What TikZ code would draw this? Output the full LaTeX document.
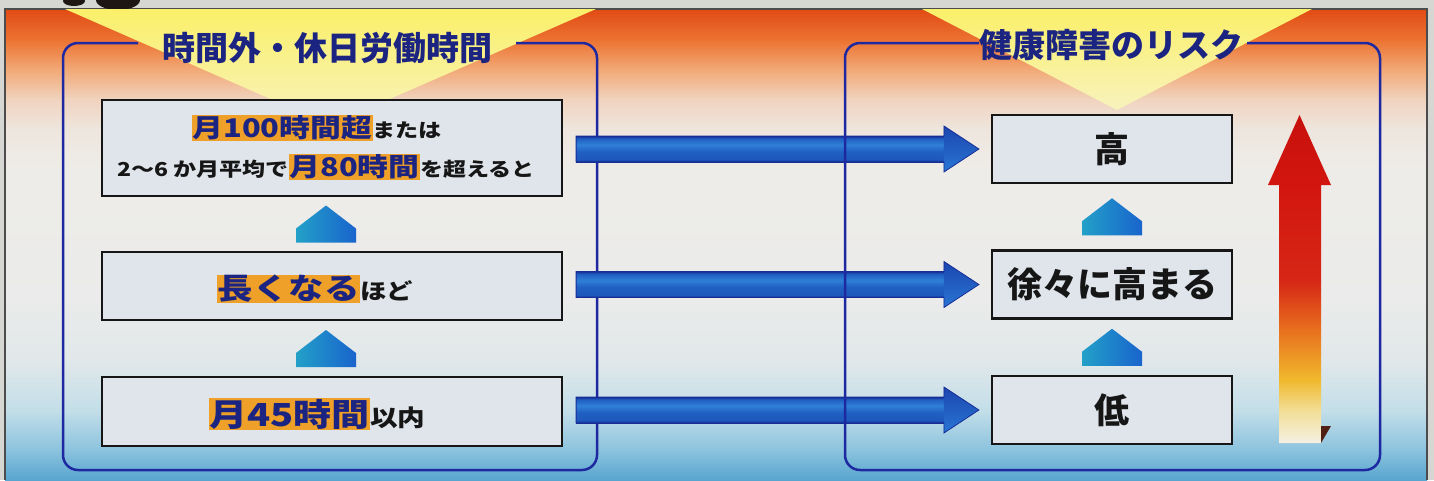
\documentclass[tikz,border=0pt]{standalone}
\usepackage{fontspec}
\setmainfont{Noto Sans CJK JP}
\newfontfamily\wide{Noto Sans CJK JP}[FakeStretch=1.2]
\usetikzlibrary{calc}
\definecolor{page}{RGB}{214,214,210}
\definecolor{navy}{RGB}{28,36,130}
\definecolor{frame}{RGB}{30,40,160}
\definecolor{hlor}{RGB}{238,160,40}
\definecolor{boxfill}{RGB}{223,229,234}
\definecolor{ink}{RGB}{22,22,22}
\definecolor{blob}{RGB}{30,22,18}
\definecolor{blob2}{RGB}{80,32,20}
\definecolor{yelT}{RGB}{250,240,105}
\definecolor{yelB}{RGB}{248,242,190}
\definecolor{pentL}{RGB}{35,160,200}
\definecolor{pentR}{RGB}{25,100,205}
\definecolor{tD}{RGB}{22,45,150}
\definecolor{tM}{RGB}{32,95,195}
\definecolor{tM2}{RGB}{30,88,188}
\definecolor{tL}{RGB}{48,128,215}
\definecolor{hdT}{RGB}{28,70,175}
\definecolor{hdB}{RGB}{40,118,212}
% background colours (bottom to top)
\definecolor{bgA}{RGB}{88,165,208}
\definecolor{bgB}{RGB}{140,195,222}
\definecolor{bgC}{RGB}{195,222,232}
\definecolor{bgD}{RGB}{225,232,234}
\definecolor{bgE}{RGB}{234,235,234}
\definecolor{bgF}{RGB}{238,236,232}
\definecolor{bgG}{RGB}{238,230,222}
\definecolor{bgH}{RGB}{240,212,192}
\definecolor{bgI}{RGB}{242,170,120}
\definecolor{bgJ}{RGB}{236,115,50}
\definecolor{bgK}{RGB}{225,75,20}
% red arrow colours
\definecolor{rA}{RGB}{245,240,228}
\definecolor{rB}{RGB}{242,222,150}
\definecolor{rC}{RGB}{240,185,45}
\definecolor{rD}{RGB}{232,112,30}
\definecolor{rE}{RGB}{214,38,22}
\definecolor{rF}{RGB}{210,22,15}
\definecolor{rG}{RGB}{200,16,12}
\pgfdeclareverticalshading{bgshade}{100bp}{color(0bp)=(bgA); color(25bp)=(bgA); color(28.2bp)=(bgB); color(32.4bp)=(bgC); color(37.7bp)=(bgD); color(44.1bp)=(bgE); color(58bp)=(bgF); color(62.2bp)=(bgG); color(65.3bp)=(bgH); color(68.5bp)=(bgI); color(71.7bp)=(bgJ); color(75bp)=(bgK); color(100bp)=(bgK)}
\pgfdeclareverticalshading{redshade}{100bp}{color(0bp)=(rA); color(25bp)=(rA); color(30bp)=(rB); color(34.6bp)=(rC); color(42.2bp)=(rD); color(49.8bp)=(rE); color(64.3bp)=(rF); color(75bp)=(rG); color(100bp)=(rG)}
\pgfdeclareverticalshading{tube}{100bp}{color(0bp)=(tD); color(25bp)=(tD); color(30bp)=(tM2); color(45bp)=(tM); color(58bp)=(tL); color(70bp)=(tM); color(75bp)=(tD); color(100bp)=(tD)}
\newcommand\fs[1]{\fontsize{#1pt}{#1pt}\selectfont}
\setlength\fboxsep{0.6pt}
\newcommand\hl[2]{\colorbox{hlor}{\fs{#1}\textcolor{navy}{#2}}}
\tikzset{
  lbox/.style={draw=ink, line width=2.2pt, fill=boxfill, minimum width=460pt, inner sep=0pt},
  rbox/.style={draw=ink, line width=2.2pt, fill=boxfill, minimum width=240pt, minimum height=68pt, inner sep=0pt, text=ink, font=\fs{35}\bfseries},
  outer/.style={draw=frame, line width=2.5pt, rounded corners=15pt},
  title/.style={text=navy, font=\fs{33}\bfseries, inner sep=0pt},
  txt/.style={text=ink, font=\wide\bfseries, inner sep=0pt},
  pent/.style={left color=pentL, right color=pentR},
  shaftline/.style={draw=tD, line width=0.8pt, line join=miter}
}
\begin{document}
\begin{tikzpicture}[x=1pt,y=-1pt]
\useasboundingbox (0,0) rectangle (1434,480);
\fill[page] (0,0) rectangle (1434,480);
\shade[shading=bgshade] (5,9) rectangle (1427,480);
\draw[gray!60!black, line width=1.2pt] (5,480) -- (5,9) -- (1427,9) -- (1427,480);
\begin{scope}
  \clip (0,0) rectangle (1434,10);
  \fill[blob] (74,1) ellipse [x radius=11, y radius=5];
  \fill[blob] (118,0) ellipse [x radius=22, y radius=10];
\end{scope}
% yellow spotlights
\shade[top color=yelT, bottom color=yelB] (65,9) -- (596,9) -- (330,125) -- cycle;
\shade[top color=yelT, bottom color=yelB] (922,9) -- (1312,9) -- (1117,110) -- cycle;
% left frame
\draw[outer] (516,43) -- (597,43) -- (597,470) -- (63,470) -- (63,43) -- (138,43);
% titles
\node[title] (T1) at (327,48) {時間外・休日労働時間};
\node[title] (T2) at (1111,45) {健康障害のリスク};
% boxes
\node[lbox, minimum height=96pt] (L1) at (332,148) {};
\node[lbox, minimum height=68pt] (L2) at (332,286) {};
\node[lbox, minimum height=69pt] (L3) at (332,411.5) {};
\node[rbox] (R1) at (1112,149) {高};
\node[rbox] (R2) at (1112,284.5) {徐々に高まる};
\node[rbox] (R3) at (1112,410) {低};
% left texts
\node[txt] (t1a) at (317,128) {\hl{25.7}{月100時間超}{\fs{19.2}または}};
\node[txt] (t1b) at (326,167) {{\fs{19.2}2〜6 か月平均で}\hl{25.7}{月80時間}{\fs{19.2}を超えると}};
\node[txt] (t2) at (315,289) {\hl{29.5}{長くなる}{\fs{22}ほど}};
\node[txt] (t3) at (317,414) {\hl{31.7}{月45時間}{\fs{23}以内}};
% pentagons
\foreach \a/\b/\dx in {L1/L2/-6, L2/L3/-6, R1/R2/0, R2/R3/0}{
  \coordinate (m) at ($(\a.south)!0.5!(\b.north)+(\dx,0)$);
  \shade[pent] ($(m)+(-30,18.5)$) -- ($(m)+(-30,4.5)$) -- ($(m)+(0,-18.5)$) -- ($(m)+(30,4.5)$) -- ($(m)+(30,18.5)$) -- cycle;
}
% blue arrows
\foreach \i in {1,2,3}{
  \path let \p1=(L\i.east), \p2=(R\i.west) in coordinate (s\i) at (\x1+13pt,\y2) coordinate (e\i) at (\x2-12pt,\y2);
  \shade[shading=tube] ($(s\i)+(0,-13)$) rectangle ($(e\i)+(-33,13)$);
  \shade[top color=hdT, bottom color=hdB] ($(e\i)+(-35,-23)$) -- (e\i) -- ($(e\i)+(-35,23)$) -- cycle;
  \draw[shaftline] ($(s\i)+(0,-13)$) -- ($(e\i)+(-35,-13)$) -- ($(e\i)+(-35,-23)$) -- (e\i) -- ($(e\i)+(-35,23)$) -- ($(e\i)+(-35,13)$) -- ($(s\i)+(0,13)$) -- cycle;
}
% right frame
\draw[outer] (1247,43) -- (1380,43) -- (1380,470) -- (845,470) -- (845,43) -- (979,43);
% red arrow
\shade[shading=redshade] (1279,443) -- (1279,185) -- (1268,185) -- (1299.5,115) -- (1331,185) -- (1321,185) -- (1321,443) -- cycle;
\fill[blob2] (1321,426) -- (1331,426) -- (1321,443) -- cycle;
\end{tikzpicture}
\end{document}
